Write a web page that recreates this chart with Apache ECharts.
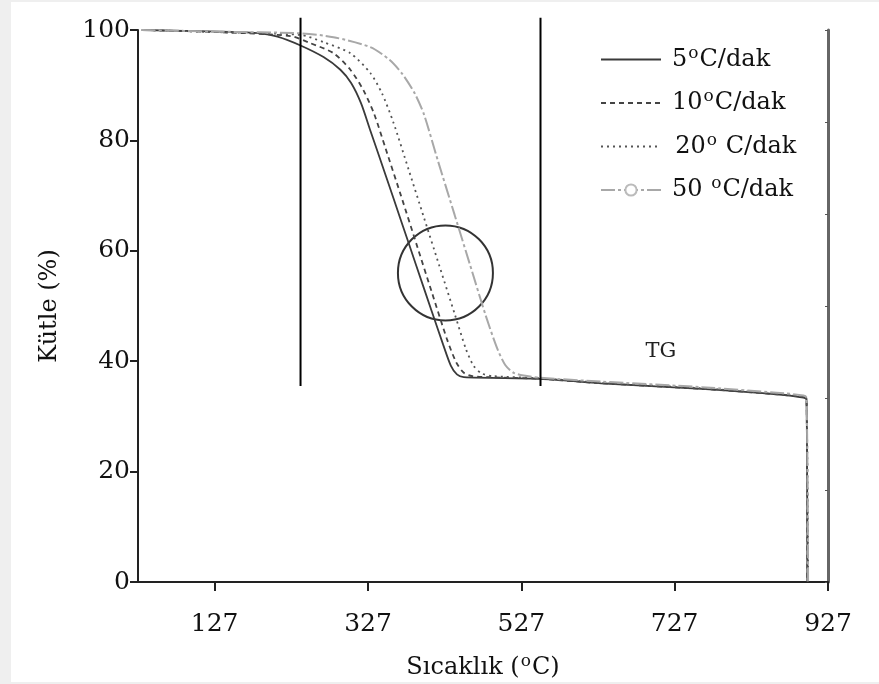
<!DOCTYPE html>
<html>
<head>
<meta charset="utf-8">
<script src="https://cdn.jsdelivr.net/npm/echarts@6/dist/echarts.min.js"></script>
<style>
  html, body { margin: 0; padding: 0; background: #efefef; }
  #chart { position: absolute; left: 11px; top: 2px; width: 868px; height: 680px; background: #fff; }
</style>
</head>
<body>
<div id="chart"></div>
<script>
// TG egrileri: [sicaklik, kutle %]
var rate5 = [
  [32, 100], [134, 99.7], [186, 99.4], [209, 98.8], [239, 97.2], [269, 95.1], [291, 92.8],
  [305, 90.4], [318, 86.7], [330, 81.8], [350, 73.7], [370, 65.5], [390, 57.3],
  [410, 49.1], [425, 43.0], [435, 39.2], [443, 37.6], [452, 37.1], [552, 36.8], [631, 36.0],
  [762, 35.0], [860, 34.0], [895, 33.4], [899, 33.0], [900, 0]
];
var rate10 = [
  [32, 100], [134, 99.6], [226, 98.9], [252, 97.6], [282, 95.8], [304, 92.8],
  [321, 89.1], [335, 84.8], [350, 78.5], [370, 70.0], [390, 61.3], [410, 52.6],
  [430, 44.0], [442, 39.8], [452, 37.9], [463, 37.3], [487, 37.1],
  [552, 36.8], [631, 36.0], [762, 35.0], [860, 34.0], [895, 33.5], [899, 33.1], [900, 0]
];
var rate20 = [
  [32, 100], [134, 99.6], [239, 99.1], [269, 97.8], [304, 95.8], [330, 92.2],
  [345, 88.6], [360, 83.3], [380, 74.7], [400, 66.0], [420, 57.3], [440, 48.6],
  [455, 42.1], [465, 39.1], [475, 37.8], [490, 37.3],
  [552, 36.9], [631, 36.1], [762, 35.1], [860, 34.1], [895, 33.6], [899, 33.2], [901, 0]
];
var rate50 = [
  [32, 100], [134, 99.7], [239, 99.4], [282, 98.7], [330, 96.9], [355, 94.6],
  [372, 92.0], [388, 88.5], [400, 84.7], [418, 76.4], [440, 66.5], [460, 57.5],
  [480, 48.5], [495, 42.5], [506, 39.3], [517, 37.9], [530, 37.4], [552, 37.0],
  [631, 36.3], [762, 35.3], [860, 34.3], [895, 33.8], [899, 33.4], [901, 0]
];
var xTicks = [127, 327, 527, 727, 927];
var cutLeft = [[239, 102.2], [239, 35.5]];
var cutRight = [[552, 102.2], [552, 35.5]];
var circleAt = [[428, 56]];
var tgAt = [709, 41.7];

var serif = 'DejaVu Serif';
var legendText = {
  '5°C/dak': '{n|5}{s|o}{n|C/dak}',
  '10°C/dak': '{n|10}{s|o}{n|C/dak}',
  '20°C/dak': ' {n|20}{s|o}{n| C/dak}',
  '50°C/dak': '{n|50 }{s|o}{n|C/dak}'
};
var supStyle = { fontFamily: serif, fontSize: 17, color: '#111', verticalAlign: 'top', padding: [0, 1, 12, 1] };

var chart = echarts.init(document.getElementById('chart'));
chart.setOption({
  animation: false,
  grid: { left: 127, right: 51, top: 28, bottom: 100, outerBoundsMode: 'none', containLabel: false },
  legend: {
    orient: 'vertical',
    left: 584,
    top: 38,
    itemWidth: 60,
    itemHeight: 14,
    itemGap: 17,
    data: [
      { name: '5°C/dak', itemStyle: { opacity: 0 } },
      { name: '10°C/dak', itemStyle: { opacity: 0 } },
      { name: '20°C/dak', itemStyle: { opacity: 0 } },
      { name: '50°C/dak' }
    ],
    formatter: function (n) { return legendText[n]; },
    textStyle: {
      padding: [0, 0, 0, 6],
      rich: {
        n: { fontFamily: serif, fontSize: 24, color: '#111', lineHeight: 28 },
        s: supStyle
      }
    }
  },
  xAxis: {
    type: 'value', min: 27, max: 927,
    splitLine: { show: false },
    axisLine: { lineStyle: { color: '#222', width: 2 } },
    axisTick: { length: 9, lineStyle: { color: '#222', width: 2 }, customValues: xTicks },
    axisLabel: { customValues: xTicks, fontFamily: serif, fontSize: 25, color: '#111', margin: 30 },
    name: 'Sıcaklık ({s|o}C)',
    nameLocation: 'middle',
    nameGap: 71,
    nameTextStyle: {
      fontFamily: serif, fontSize: 24, color: '#111',
      rich: { s: supStyle }
    }
  },
  yAxis: [{
    type: 'value', min: 0, max: 100, interval: 20,
    splitLine: { show: false },
    axisLine: { show: true, lineStyle: { color: '#222', width: 2 } },
    axisTick: { show: true, length: 8, lineStyle: { color: '#222', width: 2 } },
    axisLabel: { fontFamily: serif, fontSize: 25, color: '#111', margin: 8 },
    name: 'Kütle (%)',
    nameLocation: 'middle',
    nameRotate: 90,
    nameGap: 76,
    nameTextStyle: { fontFamily: serif, fontSize: 24, color: '#111' }
  }, {
    type: 'value', min: 0, max: 6, interval: 1, position: 'right',
    splitLine: { show: false },
    axisLine: { show: true, lineStyle: { color: '#666', width: 3 } },
    axisTick: { show: true, inside: true, length: 3, lineStyle: { color: '#555' } },
    axisLabel: { show: false }
  }],
  series: [
    {
      name: '5°C/dak', type: 'line', data: rate5, symbol: 'none', smooth: 0.25,
      lineStyle: { color: '#3a3a3a', width: 1.8 }, itemStyle: { color: '#3a3a3a' },
      markPoint: {
        symbol: 'circle', symbolSize: 0,
        data: [{ coord: tgAt }],
        label: { show: true, formatter: 'TG', position: 'inside', fontFamily: serif, fontSize: 21, color: '#222' }
      }
    },
    {
      name: '10°C/dak', type: 'line', data: rate10, symbol: 'none', smooth: 0.25,
      lineStyle: { color: '#444', width: 1.8, type: [5, 4] }, itemStyle: { color: '#444' }
    },
    {
      name: '20°C/dak', type: 'line', data: rate20, symbol: 'none', smooth: 0.25,
      lineStyle: { color: '#555', width: 1.8, type: [2, 4] }, itemStyle: { color: '#555' }
    },
    {
      name: '50°C/dak', type: 'line', data: rate50, symbol: 'emptyCircle', symbolSize: 5, showSymbol: false,
      smooth: 0.25,
      lineStyle: { color: '#a8a8a8', width: 2, type: [14, 3, 3, 3] }, itemStyle: { color: '#bbb' }
    },
    {
      type: 'line', data: cutLeft, symbol: 'none', clip: false, silent: true,
      lineStyle: { color: '#000', width: 2 }
    },
    {
      type: 'line', data: cutRight, symbol: 'none', clip: false, silent: true,
      lineStyle: { color: '#000', width: 2 }
    },
    {
      type: 'scatter', data: circleAt, symbol: 'circle', symbolSize: 95, silent: true,
      itemStyle: { color: 'rgba(0,0,0,0)', borderColor: '#000', borderWidth: 2 }
    }
  ]
});
</script>
</body>
</html>
